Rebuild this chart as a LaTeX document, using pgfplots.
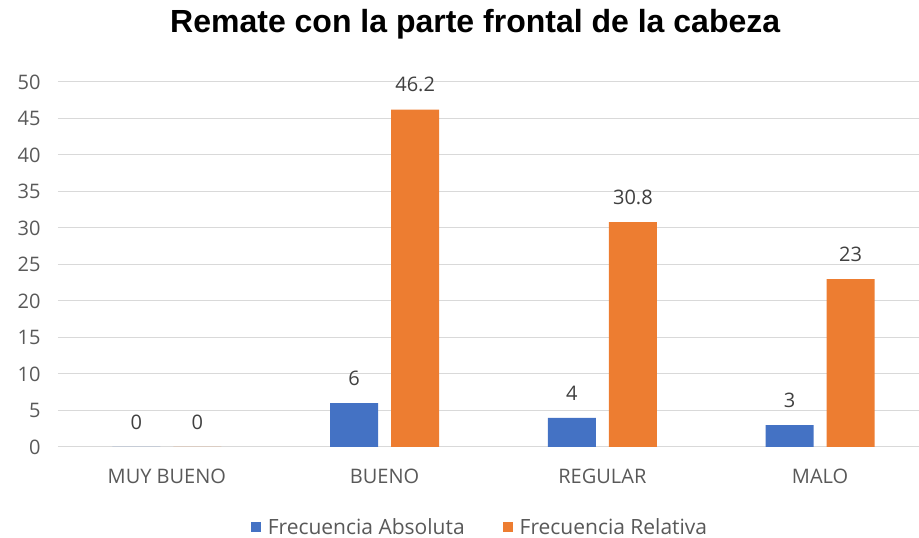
\documentclass[border=0pt]{standalone}
\usepackage{fontspec}
\setmainfont{Open Sans}
\newfontfamily\titlefont{Liberation Sans}
\usepackage{pgfplots}
\pgfplotsset{compat=1.18}
\definecolor{xlblue}{HTML}{4472C4}
\definecolor{xlorange}{HTML}{ED7D31}
\definecolor{xlgrid}{HTML}{D9D9D9}
\definecolor{xltext}{HTML}{595959}
\definecolor{xllabel}{HTML}{404040}

\begin{document}
\begin{tikzpicture}
  \useasboundingbox (-58pt,-91pt) rectangle (861pt,447pt);
  \begin{axis}[
    scale only axis,
    width=871pt, height=365pt,
    ybar=13pt, bar width=48pt,
    xmin=-0.5, xmax=3.5,
    ymin=0, ymax=50,
    ytick={0,5,...,50},
    xtick=data,
    xticklabels={MUY BUENO, BUENO, REGULAR, MALO},
    ymajorgrids, grid style={xlgrid, line width=1pt},
    axis line style={draw=none},
    major tick length=0pt,
    /pgf/number format/assume math mode=true,
    tick label style={font=\fontsize{20}{22}\selectfont, text=xltext},
    yticklabel style={xshift=-14pt},
    xticklabel style={yshift=-18pt},
    nodes near coords,
    nodes near coords style={font=\fontsize{20}{22}\selectfont, text=xllabel, yshift=14pt},
    point meta=explicit symbolic,
    title={\titlefont\bfseries Remate con la parte frontal de la cabeza},
    title style={font=\fontsize{32}{36}\selectfont, at={(axis description cs:0.479,1)}, anchor=center, yshift=52pt},
    legend columns=2,
    legend style={at={(axis description cs:0.4845,-0.219)}, anchor=center, draw=none,
      font=\fontsize{21}{23}\selectfont, text=xltext,
      /tikz/every even column/.append style={column sep=36pt}},
    legend image code/.code={\fill[#1] (0pt,-5pt) rectangle (10pt,5pt);},
    legend cell align=left,
  ]
    \addplot[fill=xlblue, draw=none] coordinates {(0,0) [0] (1,6) [6] (2,4) [4] (3,3) [3]};
    \addlegendentry{\hspace{5pt}Frecuencia Absoluta}
    \addplot[fill=xlorange, draw=none] coordinates {(0,0) [0] (1,46.2) [46.2] (2,30.8) [30.8] (3,23) [23]};
    \addlegendentry{\hspace{5pt}Frecuencia Relativa}
  \end{axis}
\end{tikzpicture}
\end{document}
